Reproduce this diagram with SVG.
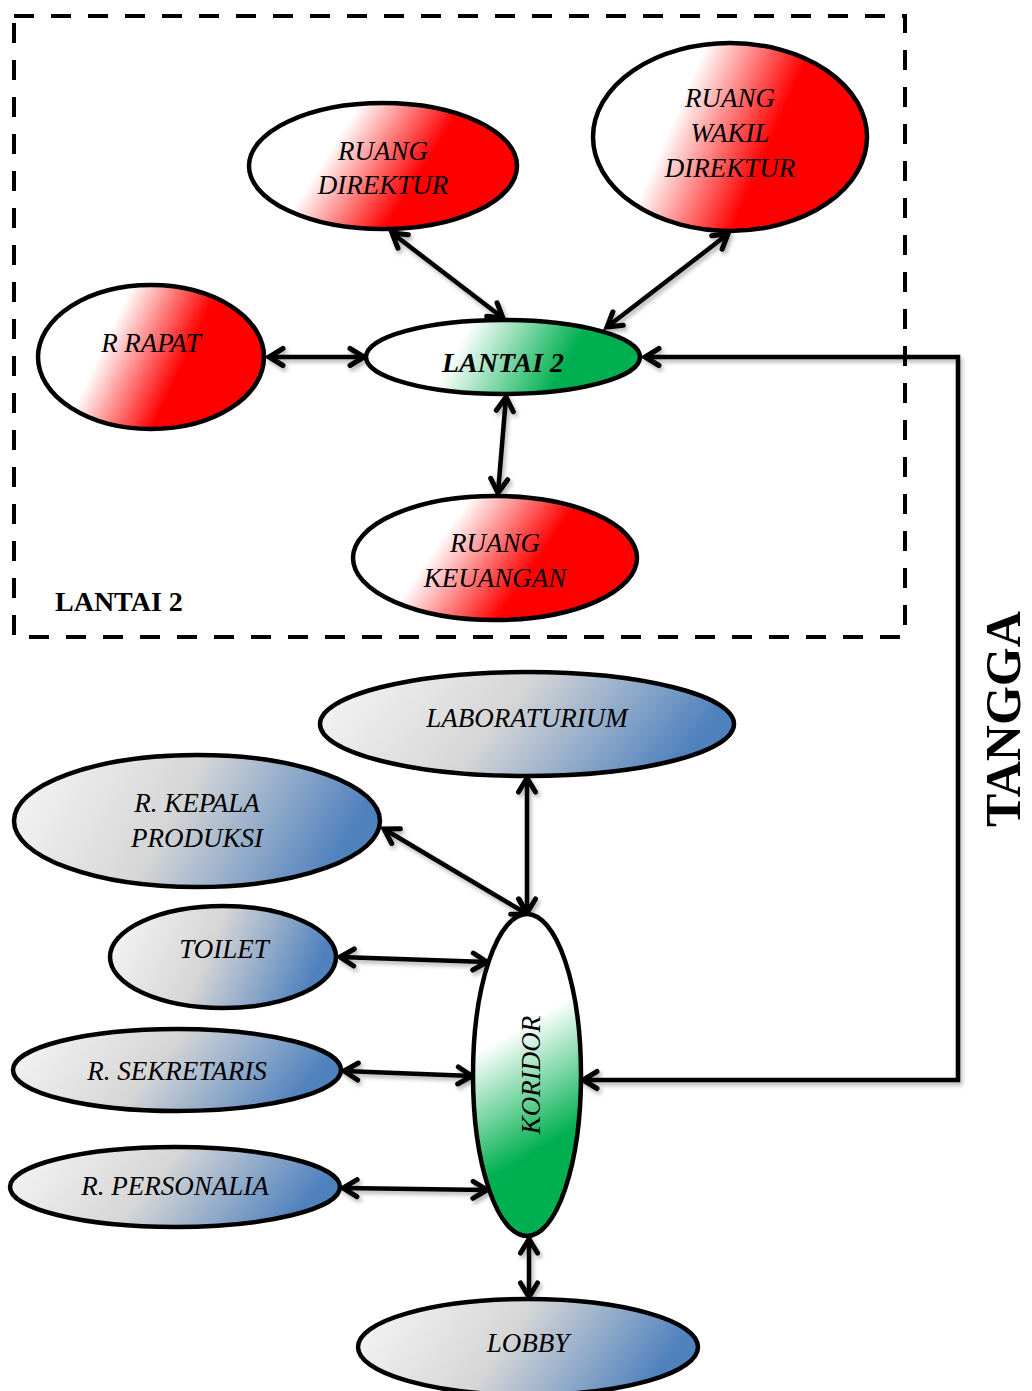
<svg xmlns="http://www.w3.org/2000/svg" width="1032" height="1391" viewBox="0 0 1032 1391">
  <style>
    .node ellipse { stroke: #000; stroke-width: 4.5; }
    .lbl { font-family: "Liberation Serif", "Times New Roman", serif; font-style: italic; font-size: 27px; fill: #000; text-anchor: middle; }
    .lblb { font-family: "Liberation Serif", "Times New Roman", serif; font-style: italic; font-weight: bold; font-size: 28px; fill: #000; text-anchor: middle; }
    .title { font-family: "Liberation Serif", "Times New Roman", serif; font-weight: bold; fill: #000; }
    .conn { fill: none; stroke: #000; stroke-width: 4.5; marker-start: url(#chev); marker-end: url(#chev); }
  </style>
  <defs>
    <marker id="chev" viewBox="0 0 22 22" refX="18" refY="11" markerWidth="22" markerHeight="22" markerUnits="userSpaceOnUse" orient="auto-start-reverse" overflow="visible">
      <path d="M4,2.5 L18,11 L4,19.5" fill="none" stroke="#000" stroke-width="5" stroke-linecap="round" stroke-linejoin="miter"/>
    </marker>
    <linearGradient id="gRed" x1="0" y1="0" x2="1" y2="0.3">
      <stop offset="0.38" stop-color="#ffffff"/>
      <stop offset="0.74" stop-color="#ff0000"/>
    </linearGradient>
    <linearGradient id="gGreen" x1="0" y1="0" x2="1" y2="0.15">
      <stop offset="0.38" stop-color="#ffffff"/>
      <stop offset="0.8" stop-color="#00b050"/>
    </linearGradient>
    <linearGradient id="gGreenV" x1="0" y1="0" x2="0.2" y2="1">
      <stop offset="0.42" stop-color="#ffffff"/>
      <stop offset="0.82" stop-color="#00b050"/>
    </linearGradient>
    <linearGradient id="gBlue" x1="0" y1="0" x2="1" y2="0.2">
      <stop offset="0" stop-color="#f7f7f7"/>
      <stop offset="0.5" stop-color="#d6d6d6"/>
      <stop offset="1" stop-color="#4f81bd"/>
    </linearGradient>
    <filter id="shadow" x="-10%" y="-10%" width="130%" height="130%">
      <feDropShadow dx="2" dy="3" stdDeviation="2" flood-color="#000" flood-opacity="0.3"/>
    </filter>
  </defs>

  <rect width="1032" height="1391" fill="#ffffff"/>

  <!-- upper floor boundary -->
  <g id="floor2-frame">
    <rect x="14" y="16" width="891" height="621" fill="none" stroke="#000" stroke-width="4" stroke-dasharray="20 17"/>
    <text class="title" x="55" y="611" font-size="28">LANTAI 2</text>
  </g>

  <!-- connectors -->
  <g id="connectors" filter="url(#shadow)">
    <line class="conn" x1="269" y1="357" x2="364" y2="357"/>
    <line class="conn" x1="392" y1="233" x2="503" y2="318"/>
    <line class="conn" x1="728" y1="234" x2="607" y2="327"/>
    <line class="conn" x1="506" y1="397" x2="498" y2="493"/>
    <path class="conn" d="M645,357 L958,357 L958,1080 L583,1080"/>
    <line class="conn" x1="527" y1="778" x2="527" y2="913"/>
    <line class="conn" x1="384" y1="829" x2="527" y2="914"/>
    <line class="conn" x1="340" y1="957" x2="487" y2="962"/>
    <line class="conn" x1="344" y1="1071" x2="472" y2="1076"/>
    <line class="conn" x1="343" y1="1188" x2="487" y2="1190"/>
    <line class="conn" x1="529" y1="1239" x2="529" y2="1297"/>
  </g>

  <!-- floor 2 rooms -->
  <g id="ruang-direktur" class="node">
    <ellipse cx="383" cy="166" rx="134" ry="63" fill="url(#gRed)"/>
    <text class="lbl" x="383" y="160">RUANG</text>
    <text class="lbl" x="383" y="194">DIREKTUR</text>
  </g>
  <g id="ruang-wakil-direktur" class="node">
    <ellipse cx="730" cy="137" rx="137" ry="94" fill="url(#gRed)"/>
    <text class="lbl" x="730" y="107">RUANG</text>
    <text class="lbl" x="730" y="142">WAKIL</text>
    <text class="lbl" x="730" y="177">DIREKTUR</text>
  </g>
  <g id="r-rapat" class="node">
    <ellipse cx="151" cy="357" rx="113" ry="72" fill="url(#gRed)"/>
    <text class="lbl" x="151" y="352">R RAPAT</text>
  </g>
  <g id="lantai-2" class="node">
    <ellipse cx="503" cy="357" rx="137" ry="37" fill="url(#gGreen)"/>
    <text class="lblb" x="503" y="372">LANTAI 2</text>
  </g>
  <g id="ruang-keuangan" class="node">
    <ellipse cx="495" cy="558" rx="142" ry="62" fill="url(#gRed)"/>
    <text class="lbl" x="495" y="552">RUANG</text>
    <text class="lbl" x="495" y="587">KEUANGAN</text>
  </g>

  <!-- ground floor rooms -->
  <g id="laboraturium" class="node">
    <ellipse cx="527" cy="724" rx="207" ry="52" fill="url(#gBlue)"/>
    <text class="lbl" x="527" y="727">LABORATURIUM</text>
  </g>
  <g id="r-kepala-produksi" class="node">
    <ellipse cx="197" cy="821" rx="183" ry="66" fill="url(#gBlue)"/>
    <text class="lbl" x="197" y="812">R. KEPALA</text>
    <text class="lbl" x="197" y="847">PRODUKSI</text>
  </g>
  <g id="toilet" class="node">
    <ellipse cx="223" cy="957" rx="113" ry="51" fill="url(#gBlue)"/>
    <text class="lbl" x="224" y="958">TOILET</text>
  </g>
  <g id="r-sekretaris" class="node">
    <ellipse cx="177" cy="1070" rx="164" ry="41" fill="url(#gBlue)"/>
    <text class="lbl" x="177" y="1080">R. SEKRETARIS</text>
  </g>
  <g id="r-personalia" class="node">
    <ellipse cx="175" cy="1187" rx="165" ry="40" fill="url(#gBlue)"/>
    <text class="lbl" x="175" y="1195">R. PERSONALIA</text>
  </g>
  <g id="koridor" class="node">
    <ellipse cx="527" cy="1075" rx="54" ry="161" fill="url(#gGreenV)"/>
    <text class="lbl" transform="translate(540,1075) rotate(-90)">KORIDOR</text>
  </g>
  <g id="lobby" class="node">
    <ellipse cx="528" cy="1347" rx="170" ry="48" fill="url(#gBlue)"/>
    <text class="lbl" x="528" y="1352">LOBBY</text>
  </g>

  <!-- stair label -->
  <g id="tangga-label">
    <text class="title" font-size="50" text-anchor="middle" transform="translate(1020,719) rotate(-90)">TANGGA</text>
  </g>
</svg>
